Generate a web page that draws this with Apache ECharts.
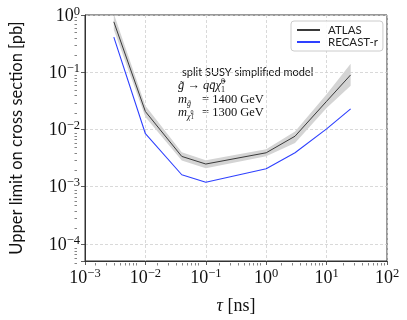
<!DOCTYPE html>
<html><head><meta charset="utf-8">
<script src="https://cdn.jsdelivr.net/npm/echarts@6/dist/echarts.min.js"></script>
<style>html,body{margin:0;padding:0;background:#fff}#c{width:407px;height:320px}</style>
</head><body><div id="c"></div>
<script>
// lifetimes tau [ns]
const tau = [0.003, 0.01, 0.04, 0.1, 1, 3, 10, 25];
// ATLAS upper limit [pb]
const atlas = [0.76, 0.0205, 0.00337, 0.00248, 0.0039, 0.0076, 0.031, 0.0897];
// ATLAS uncertainty band
const atlasUp = [1.05, 0.026, 0.0040, 0.0029, 0.00450, 0.0092, 0.041, 0.14];
const atlasLo = [0.55, 0.0165, 0.00285, 0.0021, 0.00340, 0.0058, 0.0237, 0.058];
// RECAST-r upper limit [pb]
const recast = [0.41, 0.0084, 0.00161, 0.00119, 0.00205, 0.0039, 0.0102, 0.0229];
// axis ranges
const xMin = 1e-3, xMax = 1e2, yMin = 5e-5, yMax = 1;
// minor tick values
const minorX = [], minorY = [];
for (let d = -3; d <= 1; d++) for (let k = 2; k <= 9; k++) minorX.push(+(k * Math.pow(10, d)).toPrecision(3));
for (let d = -5; d <= -1; d++) for (let k = 2; k <= 9; k++) { const v = +(k * Math.pow(10, d)).toPrecision(3); if (v >= yMin) minorY.push(v); }

const serif = 'Liberation Serif';
const sans = 'Lato';
function powLabel(v) {
  const e = Math.log10(v), r = Math.round(e);
  if (Math.abs(e - r) > 1e-6) return '';
  return '{b|10}{s|' + (r < 0 ? '\u2212' + (-r) : r) + '}';
}
const labelRich = {
  b: {fontFamily: serif, fontSize: 18, color: '#111', lineHeight: 20, verticalAlign: 'bottom'},
  s: {fontFamily: serif, fontSize: 12.5, color: '#111', lineHeight: 20, verticalAlign: 'top'}
};
const gridPos = {left: 77, right: 20, top: 15, bottom: 57};
const axisCol = '#333';

const chart = echarts.init(document.getElementById('c'), null, {renderer: 'canvas'});
chart.setOption({
  animation: false,
  backgroundColor: '#fff',
  grid: [
    Object.assign({show: true, borderColor: axisCol, borderWidth: 1, backgroundColor: 'transparent', containLabel: false}, gridPos),
    Object.assign({show: false, containLabel: false}, gridPos)
  ],
  legend: {
    data: ['ATLAS', 'RECAST-r'],
    orient: 'vertical', left: 291, top: 21,
    itemWidth: 23, itemHeight: 14, itemGap: 0,
    padding: [3, 5, 3, 5],
    itemStyle: {opacity: 0},
    borderColor: '#ccc', borderWidth: 1, borderRadius: 3,
    backgroundColor: 'rgba(255,255,255,0.85)',
    textStyle: {fontFamily: sans, fontSize: 11.5, color: '#222', padding: [0, 0, 0, 3]}
  },
  xAxis: [{
    type: 'log', gridIndex: 0, min: xMin, max: xMax, logBase: 10,
    name: '{i|\u03c4} [ns]', nameLocation: 'middle', nameGap: 36,
    nameTextStyle: {fontFamily: serif, fontSize: 18, color: '#111',
      rich: {i: {fontFamily: serif, fontStyle: 'italic', fontSize: 18, color: '#111'}}},
    axisLine: {show: true, lineStyle: {color: axisCol, width: 1}},
    axisTick: {show: true, length: 4, lineStyle: {color: axisCol, width: 0.8}},
    axisLabel: {margin: 6, formatter: powLabel, rich: labelRich},
    splitLine: {show: true, lineStyle: {color: '#cfcfcf', width: 0.8, type: [3, 2]}},
    minorTick: {show: false}
  }, {
    type: 'log', gridIndex: 1, min: xMin, max: xMax,
    axisLine: {show: false}, axisLabel: {show: false}, splitLine: {show: false},
    axisTick: {show: true, length: 2.5, customValues: minorX, lineStyle: {color: axisCol, width: 0.6}}
  }],
  yAxis: [{
    type: 'log', gridIndex: 0, min: yMin, max: yMax, logBase: 10,
    name: 'Upper limit on cross section [pb]', nameLocation: 'middle', nameGap: 60,
    nameTextStyle: {fontFamily: sans, fontSize: 16.5, color: '#111'},
    axisLine: {show: true, lineStyle: {color: axisCol, width: 1}},
    axisTick: {show: true, length: 4, lineStyle: {color: axisCol, width: 0.8}},
    axisLabel: {margin: 5, formatter: powLabel, rich: labelRich},
    splitLine: {show: true, lineStyle: {color: '#cfcfcf', width: 0.8, type: [3, 2]}}
  }, {
    type: 'log', gridIndex: 1, min: yMin, max: yMax,
    axisLine: {show: false}, axisLabel: {show: false}, splitLine: {show: false},
    axisTick: {show: true, length: 2.5, customValues: minorY, lineStyle: {color: axisCol, width: 0.6}}
  }],
  series: [{
    name: 'band', type: 'custom', xAxisIndex: 0, yAxisIndex: 0, silent: true, clip: true,
    data: [[tau[0], atlas[0]]],
    renderItem: function (params, api) {
      const pts = [];
      for (let i = 0; i < tau.length; i++) pts.push(api.coord([tau[i], atlasUp[i]]));
      for (let i = tau.length - 1; i >= 0; i--) pts.push(api.coord([tau[i], atlasLo[i]]));
      const cs = params.coordSys;
      return {type: 'polygon', shape: {points: pts}, style: {fill: '#d4d4d4'},
        clipPath: {type: 'rect', shape: {x: cs.x, y: cs.y, width: cs.width, height: cs.height}}};
    }
  }, {
    name: 'ATLAS', type: 'line', xAxisIndex: 0, yAxisIndex: 0,
    data: tau.map((t, i) => [t, atlas[i]]),
    symbol: 'none', color: '#444', lineStyle: {color: '#3a3a3a', width: 1}, clip: true
  }, {
    name: 'RECAST-r', type: 'line', xAxisIndex: 0, yAxisIndex: 0,
    data: tau.map((t, i) => [t, recast[i]]),
    symbol: 'none', color: '#3344ff', lineStyle: {color: '#2e40ff', width: 1.1}, clip: true
  }],
  graphic: [
    {type: 'text', x: 182, y: 72.5, style: {text: 'split SUSY simplified model', fontFamily: sans, fontSize: 11, fill: '#111', verticalAlign: 'middle'}},
    {type: 'text', x: 178, y: 86, style: {
      text: '{i|g\u0303 \u2192 q}{i|q\u0304}{i|\u03c7\u0303}{sp|0}{sb|1}',
      verticalAlign: 'middle', fill: '#111',
      rich: {
        i: {fontFamily: serif, fontStyle: 'italic', fontSize: 12.5, lineHeight: 16, verticalAlign: 'middle'},
        sp: {fontFamily: serif, fontSize: 8, lineHeight: 16, verticalAlign: 'top', width: 0.1},
        sb: {fontFamily: serif, fontSize: 8, lineHeight: 16, verticalAlign: 'bottom'}
      }}},
    {type: 'text', x: 178, y: 100, style: {
      text: '{i|m}{sb|g\u0303}', verticalAlign: 'middle', fill: '#111',
      rich: {
        i: {fontFamily: serif, fontStyle: 'italic', fontSize: 12.5, lineHeight: 16, verticalAlign: 'middle'},
        sb: {fontFamily: serif, fontStyle: 'italic', fontSize: 8, lineHeight: 16, verticalAlign: 'bottom'}
      }}},
    {type: 'text', x: 202, y: 100, style: {text: '= 1400 GeV', fontFamily: serif, fontSize: 12.5, fill: '#111', verticalAlign: 'middle'}},
    {type: 'text', x: 178, y: 112.5, style: {
      text: '{i|m}{sb|\u03c7\u0303}{sp|0}{sb2|1}', verticalAlign: 'middle', fill: '#111',
      rich: {
        i: {fontFamily: serif, fontStyle: 'italic', fontSize: 12.5, lineHeight: 16, verticalAlign: 'middle'},
        sb: {fontFamily: serif, fontStyle: 'italic', fontSize: 8, lineHeight: 16, verticalAlign: 'bottom'},
        sp: {fontFamily: serif, fontSize: 6, lineHeight: 14, verticalAlign: 'middle', width: 0.1},
        sb2: {fontFamily: serif, fontSize: 6, lineHeight: 16, verticalAlign: 'bottom'}
      }}},
    {type: 'text', x: 202, y: 112.5, style: {text: '= 1300 GeV', fontFamily: serif, fontSize: 12.5, fill: '#111', verticalAlign: 'middle'}}
  ]
});
</script></body></html>
